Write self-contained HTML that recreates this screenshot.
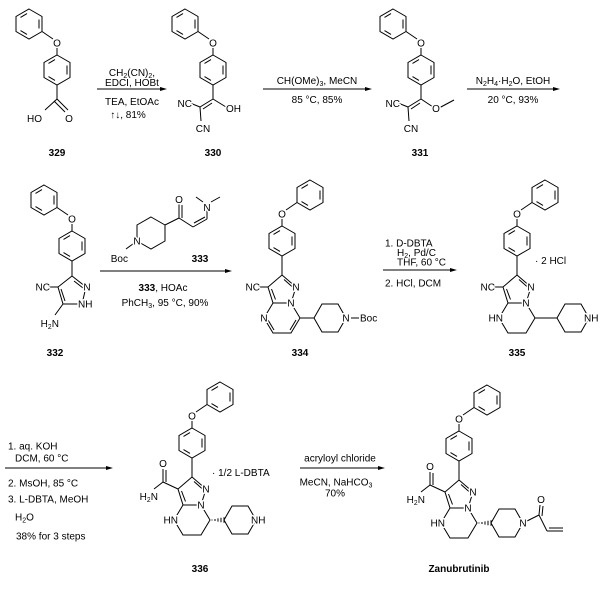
<!DOCTYPE html>
<html><head><meta charset="utf-8"><style>
html,body{margin:0;padding:0;background:#fff;}
svg{display:block;}
text{font-family:"Liberation Sans",Arial,sans-serif;font-size:10px;fill:#000;}
.a{stroke:#fff;stroke-width:3px;paint-order:stroke;stroke-linejoin:round;}
.b{font-weight:bold;}
.m{text-anchor:middle;}
.e{text-anchor:end;}
</style></head><body>
<svg width="600" height="596" viewBox="0 0 600 596" xmlns="http://www.w3.org/2000/svg">
<defs>
<g id="ph" fill="none" stroke="#000" stroke-width="1">
<polygon points="0,-15 13,-7.5 13,7.5 0,15 -13,7.5 -13,-7.5"/>
<line x1="10" y1="-4.5" x2="10" y2="4.5"/>
<line x1="-2" y1="10.4" x2="-8.5" y2="6.6"/>
<line x1="-8.5" y1="-6.6" x2="-2" y2="-10.4"/>
</g>
<g id="ppL" fill="none" stroke="#000" stroke-width="1">
<use href="#ph"/><use href="#ph" x="-28" y="-46"/>
<line x1="0" y1="-15" x2="0" y2="-23"/><line x1="-4" y1="-31" x2="-15" y2="-38.5"/>
</g>
<g id="ppR" fill="none" stroke="#000" stroke-width="1">
<use href="#ph"/><use href="#ph" x="28" y="-46"/>
<line x1="0" y1="-15" x2="0" y2="-23"/><line x1="4" y1="-31" x2="15" y2="-38.5"/>
</g>
<g id="core" fill="none" stroke="#000" stroke-width="1">
<use href="#ppR"/>
<line x1="0" y1="15" x2="0" y2="34"/>
<polygon points="0,34 14,46 9,62 -9,62 -14,46"/>
<line x1="2" y1="38.5" x2="10.5" y2="46"/>
<line x1="-10.5" y1="48" x2="-6.5" y2="58.5"/>
<polyline points="-9,62 -18,77 -9,92 9,92 18,77 9,62"/>
</g>
<polygon id="pip" fill="none" stroke="#000" stroke-width="1" points="-16,0 -8,-14 8,-14 16,0 8,14 -8,14"/>
<g id="hash" stroke="#000" stroke-width="1">
<line x1="2" y1="-0.5" x2="2" y2="0.5"/><line x1="5" y1="-1" x2="5" y2="1"/><line x1="8" y1="-1.6" x2="8" y2="1.6"/><line x1="11" y1="-2.2" x2="11" y2="2.2"/><line x1="14" y1="-2.8" x2="14" y2="2.8"/>
</g>
</defs>

<g stroke="#000" stroke-width="1" fill="none">
<!-- 329 -->
<use href="#ppL" x="57" y="70"/>
<line x1="57" y1="85" x2="57" y2="99"/>
<line x1="57" y1="99" x2="45" y2="110"/>
<line x1="57" y1="99" x2="68" y2="110"/><line x1="54" y1="101" x2="65" y2="112"/>
<!-- 330 -->
<use href="#ppL" x="213" y="70"/>
<line x1="213" y1="85" x2="213" y2="99"/>
<line x1="213" y1="99" x2="226" y2="107"/>
<line x1="213" y1="99" x2="200" y2="107"/><line x1="212" y1="103" x2="203" y2="109"/>
<line x1="200" y1="107" x2="190" y2="103"/>
<line x1="200" y1="107" x2="201" y2="121"/>
<!-- 331 -->
<use href="#ppL" x="421" y="70"/>
<line x1="421" y1="85" x2="421" y2="99"/>
<line x1="421" y1="99" x2="433" y2="107"/>
<line x1="439" y1="108" x2="454" y2="100"/>
<line x1="421" y1="99" x2="408" y2="107"/><line x1="420" y1="103" x2="411" y2="109"/>
<line x1="408" y1="107" x2="398" y2="103"/>
<line x1="408" y1="107" x2="409" y2="121"/>
<!-- 332 -->
<use href="#ppL" x="72" y="246"/>
<line x1="72" y1="261" x2="72" y2="276"/>
<polygon points="72,276 86,287 82,304 63,304 58,287"/>
<line x1="61" y1="289" x2="65" y2="301"/>
<line x1="74" y1="281" x2="83" y2="288"/>
<line x1="58" y1="287" x2="48" y2="287"/>
<line x1="63" y1="304" x2="55" y2="315"/>
<!-- 333 -->
<polygon points="151,217 165,225 165,241 151,249 137,241 137,225"/>
<line x1="137" y1="241" x2="126" y2="249"/>
<line x1="165" y1="225" x2="179" y2="218"/>
<line x1="179" y1="218" x2="179" y2="204"/><line x1="182" y1="218" x2="182" y2="205"/>
<line x1="179" y1="218" x2="193" y2="227"/>
<line x1="193" y1="227" x2="207" y2="219"/><line x1="194" y1="223" x2="205" y2="217"/>
<line x1="207" y1="219" x2="207" y2="210"/>
<line x1="203" y1="202" x2="196" y2="197"/><line x1="211" y1="202" x2="220" y2="197"/>
<!-- 334 -->
<use href="#core" x="282" y="241"/>
<line x1="268" y1="320" x2="274" y2="330"/><line x1="290" y1="330" x2="296" y2="320"/>
<line x1="268" y1="287" x2="258" y2="287"/>
<line x1="300" y1="318" x2="314" y2="318"/>
<use href="#pip" x="330" y="318"/>
<line x1="351" y1="318" x2="359" y2="318"/>
<!-- 335 -->
<use href="#core" x="517" y="241"/>
<line x1="503" y1="287" x2="493" y2="287"/>
<line x1="535" y1="318" x2="557" y2="318"/>
<use href="#pip" x="573" y="318"/>
<!-- 336 -->
<use href="#core" x="192" y="443"/>
<line x1="178" y1="489" x2="163" y2="482"/>
<line x1="163" y1="482" x2="163" y2="469"/><line x1="166" y1="482" x2="166" y2="470"/>
<line x1="163" y1="482" x2="154" y2="489"/>
<use href="#hash" x="210" y="520"/>
<use href="#pip" x="240" y="520"/>
<!-- Zan -->
<use href="#core" x="459" y="446"/>
<line x1="445" y1="492" x2="430" y2="485"/>
<line x1="430" y1="485" x2="430" y2="472"/><line x1="433" y1="485" x2="433" y2="473"/>
<line x1="430" y1="485" x2="421" y2="492"/>
<use href="#hash" x="477" y="523"/>
<use href="#pip" x="507" y="523"/>
<line x1="527" y1="521" x2="539" y2="515"/>
<line x1="539" y1="515" x2="540" y2="505"/><line x1="542" y1="516" x2="543" y2="506"/>
<line x1="539" y1="515" x2="547" y2="531"/>
<line x1="547" y1="531" x2="563" y2="531"/><line x1="549" y1="528" x2="563" y2="528"/>

<!-- arrows -->
<line x1="97" y1="89" x2="162" y2="89"/>
<line x1="263" y1="89" x2="368" y2="89"/>
<line x1="467" y1="89" x2="556" y2="89"/>
<line x1="100" y1="271" x2="228" y2="271"/>
<line x1="383" y1="270" x2="453" y2="270"/>
<line x1="5" y1="468" x2="109" y2="468"/>
<line x1="300" y1="468" x2="381" y2="468"/>
</g>
<g fill="#000">
<polygon points="160,87 167,89 160,91"/>
<polygon points="365,87 372,89 365,91"/>
<polygon points="553,87 560,89 553,91"/>
<polygon points="225,269 232,271 225,273"/>
<polygon points="450,268 457,270 450,272"/>
<polygon points="106,466 113,468 106,470"/>
<polygon points="378,466 385,468 378,470"/>
</g>

<!-- atom labels -->
<g>
<text class="a m" x="57" y="46.5">O</text>
<text class="a" x="27" y="122">HO</text>
<text class="a m" x="69" y="122">O</text>
<text class="a m" x="213" y="46.5">O</text>
<text class="a" x="226" y="112">OH</text>
<text class="a e" x="192" y="107">NC</text>
<text class="a m" x="203" y="132">CN</text>
<text class="a m" x="421" y="46.5">O</text>
<text class="a m" x="436" y="112">O</text>
<text class="a e" x="400" y="107">NC</text>
<text class="a m" x="411" y="132">CN</text>

<text class="a m" x="72" y="222.5">O</text>
<text class="a m" x="87" y="290.5">N</text>
<text class="a" x="78" y="307.5">NH</text>
<text class="a e" x="50" y="290.5">NC</text>
<text class="a e" x="59" y="327">H<tspan font-size="7" dy="2">2</tspan><tspan dy="-2">N</tspan></text>

<text class="a e" x="128" y="262">Boc</text>
<text class="a m" x="137" y="244.5">N</text>
<text class="a m" x="179" y="203">O</text>
<text class="a m" x="207" y="211">N</text>

<text class="a m" x="282" y="217.5">O</text>
<text class="a m" x="296" y="290.5">N</text>
<text class="a m" x="291" y="306.5">N</text>
<text class="a m" x="264" y="321.5">N</text>
<text class="a e" x="260" y="290.5">NC</text>
<text class="a m" x="346" y="321.5">N</text>
<text class="a" x="360" y="321.5">Boc</text>

<text class="a m" x="517" y="217.5">O</text>
<text class="a m" x="531" y="290.5">N</text>
<text class="a m" x="526" y="306.5">N</text>
<text class="a e" x="503" y="321.5">HN</text>
<text class="a e" x="495" y="290.5">NC</text>
<text class="a" x="584" y="321.5">NH</text>
<text x="535" y="264">· 2 HCl</text>

<text class="a m" x="192" y="419.5">O</text>
<text class="a m" x="206" y="492.5">N</text>
<text class="a m" x="201" y="508.5">N</text>
<text class="a e" x="178" y="523.5">HN</text>
<text class="a m" x="163" y="467">O</text>
<text class="a e" x="158" y="500">H<tspan font-size="7" dy="2">2</tspan><tspan dy="-2">N</tspan></text>
<text class="a" x="251" y="523.5">NH</text>
<text x="212" y="476">·  1/2 L-DBTA</text>

<text class="a m" x="459" y="422.5">O</text>
<text class="a m" x="473" y="495.5">N</text>
<text class="a m" x="468" y="511.5">N</text>
<text class="a e" x="445" y="526.5">HN</text>
<text class="a m" x="430" y="470">O</text>
<text class="a e" x="425" y="503">H<tspan font-size="7" dy="2">2</tspan><tspan dy="-2">N</tspan></text>
<text class="a m" x="523" y="526.5">N</text>
<text class="a m" x="541" y="503">O</text>
</g>

<!-- compound labels -->
<g class="b">
<text class="b m" x="57" y="156">329</text>
<text class="b m" x="213" y="156">330</text>
<text class="b m" x="420" y="156">331</text>
<text class="b m" x="55" y="356">332</text>
<text class="b m" x="200" y="262">333</text>
<text class="b m" x="300" y="356">334</text>
<text class="b m" x="517" y="356">335</text>
<text class="b m" x="200" y="572">336</text>
<text class="b m" x="459" y="572">Zanubrutinib</text>
</g>

<!-- conditions -->
<text class="m" x="132" y="76">CH<tspan font-size="7" dy="2">2</tspan><tspan dy="-2">(CN)</tspan><tspan font-size="7" dy="2">2</tspan><tspan dy="-2">,</tspan></text>
<text class="m" x="132" y="86">EDCI, HOBt</text>
<text class="m" x="132" y="105">TEA, EtOAc</text>
<text class="m" x="128" y="118">↑↓, 81%</text>

<text class="m" x="317" y="84">CH(OMe)<tspan font-size="7" dy="2">3</tspan><tspan dy="-2">, MeCN</tspan></text>
<text class="m" x="317" y="103">85 °C, 85%</text>

<text class="m" x="513" y="84">N<tspan font-size="7" dy="2">2</tspan><tspan dy="-2">H</tspan><tspan font-size="7" dy="2">4</tspan><tspan dy="-2">·H</tspan><tspan font-size="7" dy="2">2</tspan><tspan dy="-2">O, EtOH</tspan></text>
<text class="m" x="513" y="103">20 °C, 93%</text>

<text class="m" x="163" y="291"><tspan font-weight="bold">333</tspan>, HOAc</text>
<text class="m" x="165" y="306">PhCH<tspan font-size="7" dy="2">3</tspan><tspan dy="-2">, 95 °C, 90%</tspan></text>

<text x="385" y="246.5">1. D-DBTA</text>
<text x="397" y="256">H<tspan font-size="7" dy="2">2</tspan><tspan dy="-2">, Pd/C</tspan></text>
<text x="397" y="265.5">THF, 60 °C</text>
<text x="385" y="286.5">2. HCl, DCM</text>

<text x="8" y="449.5">1. aq. KOH</text>
<text x="15" y="461.5">DCM,  60 °C</text>
<text x="8" y="486.5">2. MsOH, 85 °C</text>
<text x="8" y="502.5">3. L-DBTA, MeOH</text>
<text x="15" y="520.5">H<tspan font-size="7" dy="2">2</tspan><tspan dy="-2">O</tspan></text>
<text x="16" y="539.5">38% for 3 steps</text>

<text class="m" x="340" y="461.5">acryloyl chloride</text>
<text class="m" x="336" y="485.5">MeCN, NaHCO<tspan font-size="7" dy="2">3</tspan></text>
<text class="m" x="335" y="496.5">70%</text>
</svg>
</body></html>
